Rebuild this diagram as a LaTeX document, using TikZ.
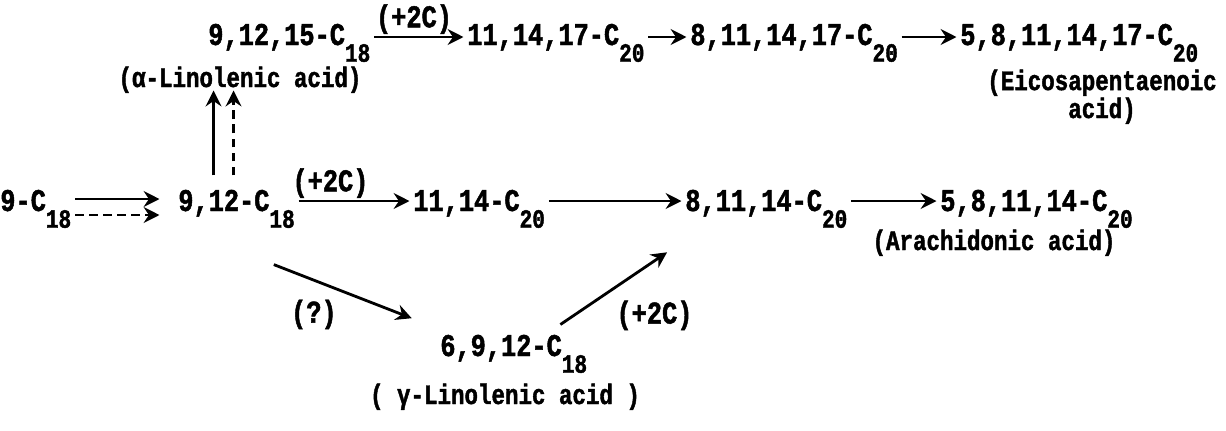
\documentclass[tikz,border=0pt]{standalone}
\usepackage{fontspec}
\setmainfont{Liberation Mono}[FakeStretch=0.8, BoldFeatures={FakeBold=1.5}]
\usetikzlibrary{arrows.meta}

\newcommand{\cnum}[1]{\raisebox{-1.0ex}{\fontsize{15}{15}\selectfont #1}}

\begin{document}
\begin{tikzpicture}[
  x=0.02cm, y=-0.02cm,
  font=\fontsize{18}{20}\selectfont\bfseries,
  acid/.style={inner sep=0pt, anchor=base west},
  trivial/.style={inner sep=0pt, anchor=base, align=center,
                  font=\fontsize{16}{14}\selectfont\bfseries},
  prog/.style={-{Stealth[length=9pt,width=9pt,inset=3pt]}, line width=1.6pt,
               shorten <=2pt, shorten >=2pt},
  tentative/.style={prog, dash pattern=on 5pt off 3pt},
  gain/.style={above, inner sep=1pt},
]
\useasboundingbox (0,0) rectangle (1226,430);

% Top row: n-3 series
\node[acid] (ala) at (208,45) {9,12,15-C\cnum{18}};
\node[trivial] (alaname) at (240,87) {(α-Linolenic acid)};
\node[acid] (c20a) at (467,45) {11,14,17-C\cnum{20}};
\node[acid] (c20b) at (690,45) {8,11,14,17-C\cnum{20}};
\node[acid] (epa) at (960,45) {5,8,11,14,17-C\cnum{20}};
\node[trivial] (epaname) at (1102,118) {(Eicosapentaenoic\\acid)};

\draw[prog] ([yshift=0.16cm]ala.base east) -- node[gain, pos=0.45] {(+2C)} ([yshift=0.16cm]c20a.base west);
\draw[prog] ([yshift=0.16cm]c20a.base east) -- ([yshift=0.16cm]c20b.base west);
\draw[prog] ([yshift=0.16cm]c20b.base east) -- ([yshift=0.16cm]epa.base west);

% Middle row: n-6 series
\node[acid] (ole) at (0,211) {9-C\cnum{18}};
\node[acid] (lin) at (178,211) {9,12-C\cnum{18}};
\node[acid] (c20c) at (413,211) {11,14-C\cnum{20}};
\node[acid] (dgla) at (685,211) {8,11,14-C\cnum{20}};
\node[acid] (ara) at (940,211) {5,8,11,14-C\cnum{20}};
\node[trivial] (araname) at (994,250) {(Arachidonic acid)};

\draw[prog] ([yshift=0.24cm]ole.base east) -- ([yshift=0.24cm, xshift=-0.3cm]lin.base west);
\draw[tentative] ([yshift=-0.08cm]ole.base east) -- ([yshift=-0.08cm, xshift=-0.3cm]lin.base west);
\draw[prog] ([yshift=0.2cm]lin.base east) -- node[gain, pos=0.3] {(+2C)} ([yshift=0.2cm]c20c.base west);
\draw[prog] ([yshift=0.2cm]c20c.base east) -- ([yshift=0.2cm]dgla.base west);
\draw[prog] ([yshift=0.2cm]dgla.base east) -- ([yshift=0.2cm]ara.base west);

% Desaturation of linoleic acid to the n-3 side
\draw[prog, shorten <=8pt] ([xshift=-0.46cm]lin.north) -- ([xshift=-0.46cm]lin.north |- alaname.base);
\draw[tentative, shorten <=8pt] ([xshift=-0.06cm]lin.north) -- ([xshift=-0.06cm]lin.north |- alaname.base);

% Bottom: gamma-linolenic acid
\node[acid] (gla) at (440,356) {6,9,12-C\cnum{18}};
\node[trivial] (glaname) at (505,404) {( γ-Linolenic acid )};

\draw[prog] ([shift={(34,35)}]lin.south) -- node[pos=0.3, below=7pt] {(?)} ([shift={(-25,-15)}]gla.north west);
\draw[prog] ([shift={(-30,-8)}]gla.north east) -- node[pos=0.45, anchor=north west, inner sep=4pt] {(+2C)} ([shift={(-15,22)}]dgla.south west);

\end{tikzpicture}
\end{document}
